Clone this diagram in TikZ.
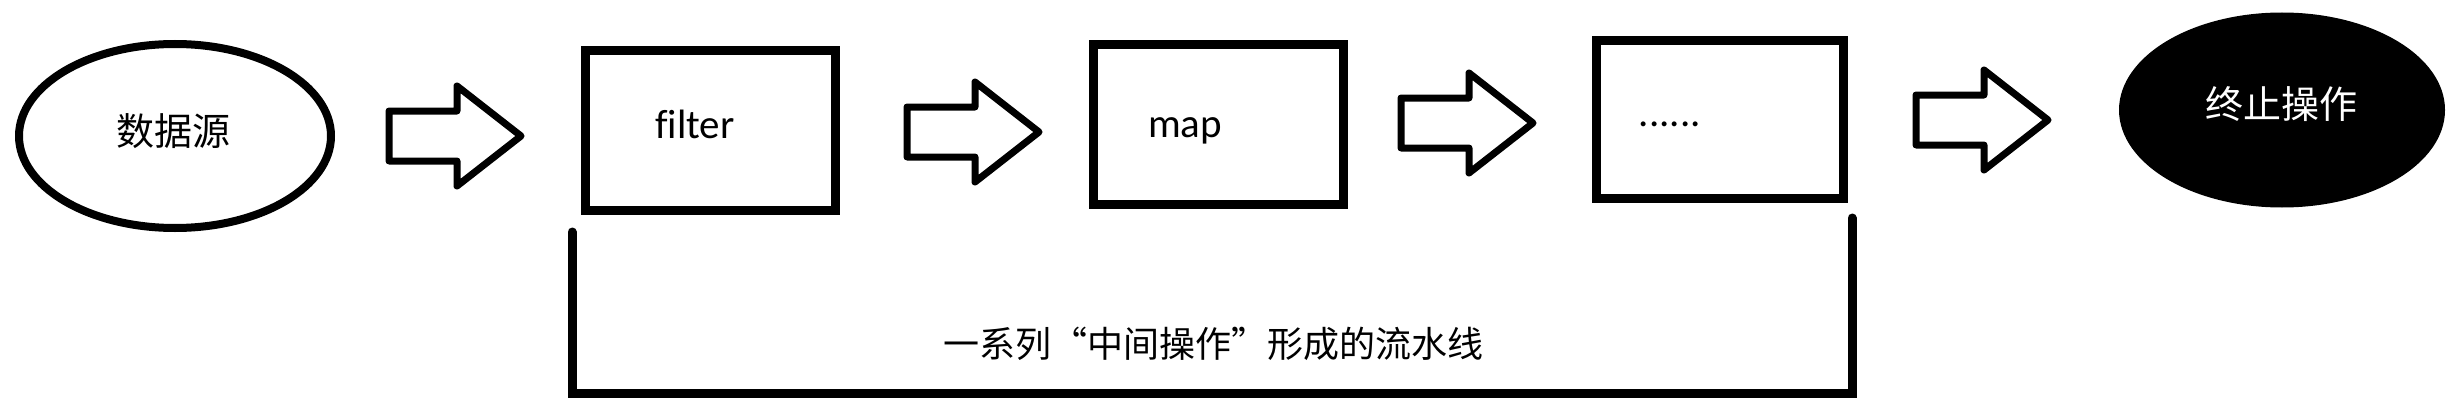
\documentclass[tikz,border=0pt]{standalone}
\usepackage{fontspec}
\setmainfont{Carlito}[Ligatures=NoCommon]
\newfontfamily\cjk{Noto Sans CJK SC}
\usetikzlibrary{shapes.geometric}
\tikzset{
  outline/.style={draw=black, line width=8pt, line join=round},
  stagebox/.style={draw=black, line width=9pt, line join=miter, minimum width=250pt, minimum height=159pt, inner sep=0pt},
  arrowline/.style={draw=black, line width=7pt, line join=round, fill=white},
  bracketline/.style={draw=black, line width=9pt, line cap=round},
  latinlabel/.style={font=\fontsize{41}{41}\selectfont, anchor=base, inner sep=0pt},
  cjklabel/.style={font=\cjk\fontsize{38}{38}\selectfont, inner sep=0pt},
  blockarrow/.pic={
    \path[arrowline] (0,-25) -- (68,-25) -- (68,-50) -- (132,0) -- (68,50) -- (68,25) -- (0,25) -- cycle;
  }
}
\begin{document}
\begin{tikzpicture}[x=1pt, y=-1pt]
\useasboundingbox[fill=white] (0,0) rectangle (2460,412);
% source
\node[outline, ellipse, minimum width=312pt, minimum height=184pt, inner sep=0pt] (src) at (175,136) {};
\node[cjklabel] (srctext) at (173,131) {数据源};
% arrows
\pic at (389,136) {blockarrow};
% filter box
\node[stagebox] (filter) at (710,130.5) {};
\node[latinlabel] (filtertext) at (695,138) {f\kern0pt ilter};
\pic at (907,132) {blockarrow};
% map box
\node[stagebox] (map) at (1218.5,124.5) {};
\node[latinlabel] (maptext) at (1185,137) {map};
\pic at (1401,123) {blockarrow};
% dots box
\node[stagebox, minimum width=247pt, minimum height=157pt] (more) at (1719.5,119.5) {};
\node[latinlabel] (moretext) at (1670,126) {......};
\pic at (1916,120) {blockarrow};
% terminal
\node[ellipse, fill=black, draw=none, minimum width=326pt, minimum height=195pt, inner sep=0pt] (term) at (2282,110) {};
\node[cjklabel, text=white] (termtext) at (2281,104) {终止操作};
% bracket
\coordinate (bl) at (572,232);
\coordinate (bll) at (572,393);
\coordinate (brl) at (1852,393);
\coordinate (br) at (1852,218);
\draw[bracketline] (bl) -- (bll) -- (brl) -- (br);
\node[font=\cjk\fontsize{36}{36}\selectfont, inner sep=0pt] (pipetext) at (1213,344) {一系列“中间操作”形成的流水线};
\end{tikzpicture}
\end{document}
